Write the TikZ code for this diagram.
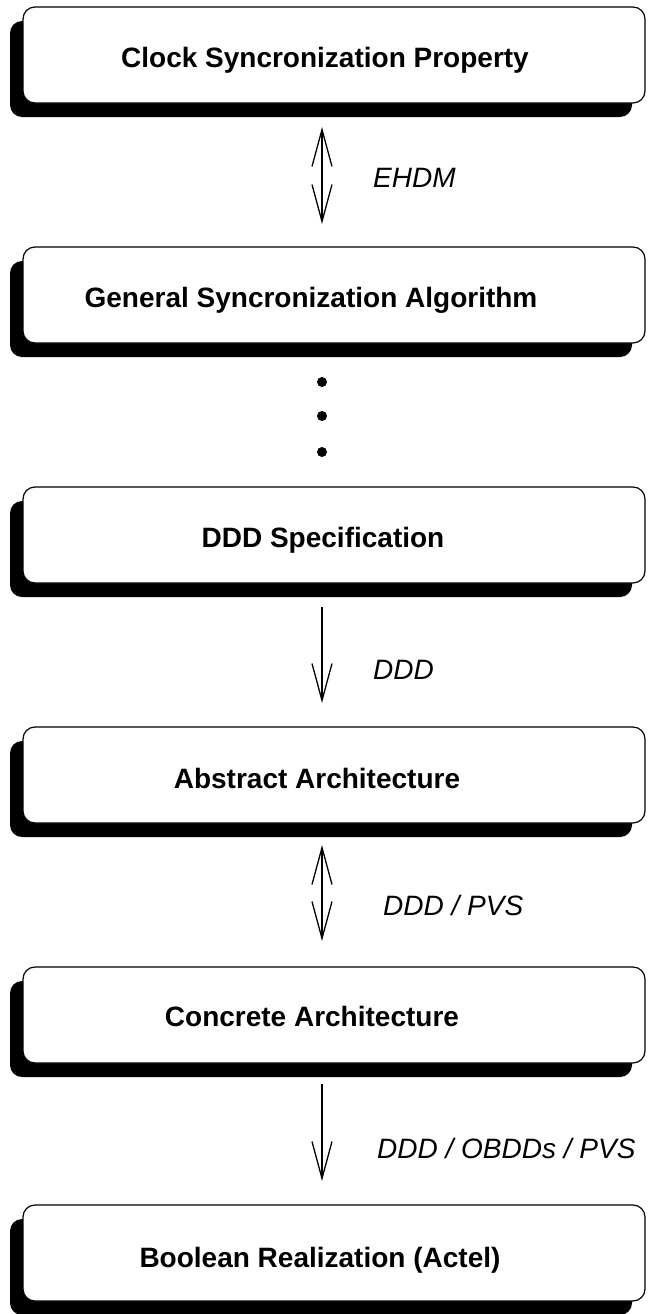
\documentclass[tikz,border=0pt]{standalone}
\usepackage{fontspec}
\setmainfont{Liberation Sans}
\usetikzlibrary{arrows.meta,shadows}
\begin{document}
\begin{tikzpicture}[x=1pt,y=-1pt,
 box/.style={draw, line width=1.2pt, fill=white, rounded corners=12pt, minimum width=622pt, minimum height=96pt, inner sep=0pt,
   drop shadow={shadow xshift=-13pt, shadow yshift=-14pt, opacity=1, fill=black}},
 title/.style={font=\fontsize{28}{32}\selectfont\bfseries, inner sep=0pt, anchor=base},
 lab/.style={font=\fontsize{28}{32}\selectfont\itshape, inner sep=0pt, anchor=base west},
 tip/.tip={Straight Barb[length=37pt,width=20pt]},
 arr/.style={line width=1.3pt, -tip},
 barr/.style={line width=1.3pt, tip-tip},
 dot/.style={circle, fill=black, draw=none, inner sep=0pt, minimum size=10pt}]
\useasboundingbox (0,0) rectangle (650,1314);
% boxes
\node[box] (b1) at (334,55) {};
\node[box] (b2) at (334,295) {};
\node[box] (b3) at (334,535) {};
\node[box] (b4) at (334,775) {};
\node[box] (b5) at (334,1015) {};
\node[box] (b6) at (334,1253) {};
% titles
\node[title] (t1) at (325,67) {Clock Syncronization Property};
\node[title] (t2) at (311,307) {General Syncronization Algorithm};
\node[title] (t3) at (323,547) {DDD Specification};
\node[title] (t4) at (317,788) {Abstract Architecture};
\node[title] (t5) at (312,1026) {Concrete Architecture};
\node[title] (t6) at (320,1267) {Boolean Realization (Actel)};
% dots
\node[dot] (d1) at (322,382) {};
\node[dot] (d2) at (322,416) {};
\node[dot] (d3) at (322,452) {};
% arrows
\coordinate (a1s) at (322,127); \coordinate (a1e) at (322,224);
\coordinate (a2s) at (322,607); \coordinate (a2e) at (322,703);
\coordinate (a3s) at (322,845); \coordinate (a3e) at (322,941);
\coordinate (a4s) at (322,1084); \coordinate (a4e) at (322,1181);
\draw[barr] (a1s) -- (a1e);
\draw[arr] (a2s) -- (a2e);
\draw[barr] (a3s) -- (a3e);
\draw[arr] (a4s) -- (a4e);
% labels
\node[lab] (l1) at (373,187) {EHDM};
\node[lab] (l2) at (373,679) {DDD};
\node[lab] (l3) at (383,915) {DDD / PVS};
\node[lab] (l4) at (377,1158) {DDD / OBDDs / PVS};
\end{tikzpicture}
\end{document}
